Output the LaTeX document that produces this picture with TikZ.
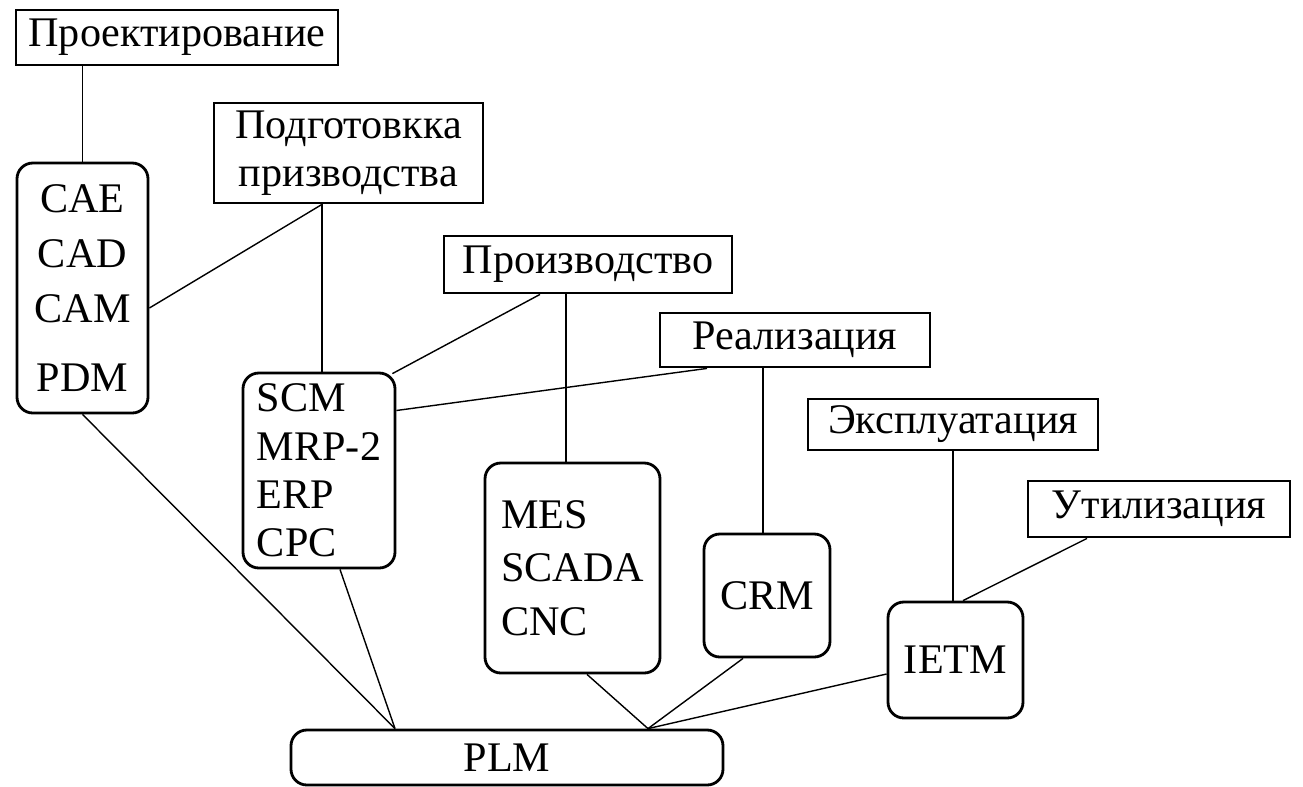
\documentclass[tikz,border=0pt]{standalone}
\usepackage{fontspec}
\setmainfont{Liberation Serif}
\usetikzlibrary{positioning}

\begin{document}
\begin{tikzpicture}[font=\fontsize{24}{27.5}\selectfont]
	\tikzset{
		stage/.style={draw=black, line width=1.6pt, inner sep=0pt, align=center},
		sys/.style={draw=black, line width=1.6pt, rounded corners=9pt, inner sep=0pt},
		link/.style={line width=0.8pt},
	}
	\useasboundingbox (0,0) rectangle (26.06,-15.72);
	
	% life-cycle stages
	\node[stage, minimum width=6.44cm, minimum height=1.1cm] (proj) at (3.54,-0.75) {Проектирование};
	\node[stage, minimum width=5.38cm, minimum height=2cm] (prep) at (6.97,-3.06) {Подготовкка\\призводства};
	\node[stage, minimum width=5.76cm, minimum height=1.14cm] (prod) at (11.76,-5.29) {Производство};
	\node[stage, minimum width=5.4cm, minimum height=1.08cm] (real) at (15.9,-6.8) {Реализация};
	\node[stage, minimum width=5.8cm, minimum height=1.02cm] (expl) at (19.06,-8.49) {Эксплуатация};
	\node[stage, minimum width=5.24cm, minimum height=1.12cm] (util) at (23.18,-10.18) {Утилизация};
	
	% systems
	\node[sys, align=center, minimum width=2.62cm, minimum height=5cm] (cad) at (1.65,-5.76) {CAE\\[3.8pt]CAD\\[3.8pt]CAM\\[12pt]PDM};
	\node[sys, align=left, minimum width=3.04cm, minimum height=3.9cm] (scm) at (6.38,-9.41) {SCM\\MRP-2\\ERP\\CPC};
	\node[sys, align=left, minimum width=3.5cm, minimum height=4.2cm] (mes) at (11.45,-11.36) {MES\\[3pt]SCADA\\[3pt]CNC};
	\node[sys, minimum width=2.52cm, minimum height=2.46cm] (crm) at (15.34,-11.91) {CRM};
	\node[sys, minimum width=2.7cm, minimum height=2.32cm] (ietm) at (19.11,-13.2) {IETM};
	\node[sys, minimum width=8.64cm, minimum height=1.1cm] (plm) at (10.14,-15.15) {PLM};
	
	% stages to systems
	\coordinate (pp) at ([xshift=-0.53cm]prep.south);
	\coordinate (pr) at ([xshift=-0.44cm]prod.south);
	\coordinate (rl) at ([xshift=-0.64cm]real.south);
	\draw[link] (cad.north) -- (cad.north |- proj.south);
	\draw[link] (pp) -- ([yshift=-0.4cm]cad.east);
	\draw[link] (pp) -- (pp |- scm.north);
	\draw[link] ([xshift=-0.96cm]prod.south) -- ([xshift=-0.08cm,yshift=-0.04cm]scm.north east);
	\draw[link] (pr) -- (pr |- mes.north);
	\draw[link] ([xshift=-1.76cm]real.south) -- ([yshift=1.2cm]scm.east);
	\draw[link] (rl) -- (rl |- crm.north);
	\draw[link] (expl.south) -- (expl.south |- ietm.north);
	\draw[link] ([xshift=-1.44cm]util.south) -- ([xshift=0.15cm]ietm.north);
	
	% systems to PLM
	\coordinate (pa) at ([xshift=-2.24cm]plm.north);
	\coordinate (pb) at ([xshift=2.82cm]plm.north);
	\draw[link] (cad.south) -- (pa);
	\draw[link] ([xshift=0.42cm]scm.south) -- (pa);
	\draw[link] ([xshift=0.29cm]mes.south) -- (pb);
	\draw[link] ([xshift=-0.48cm]crm.south) -- (pb);
	\draw[link] ([yshift=-0.28cm]ietm.west) -- (pb);
\end{tikzpicture}
\end{document}
